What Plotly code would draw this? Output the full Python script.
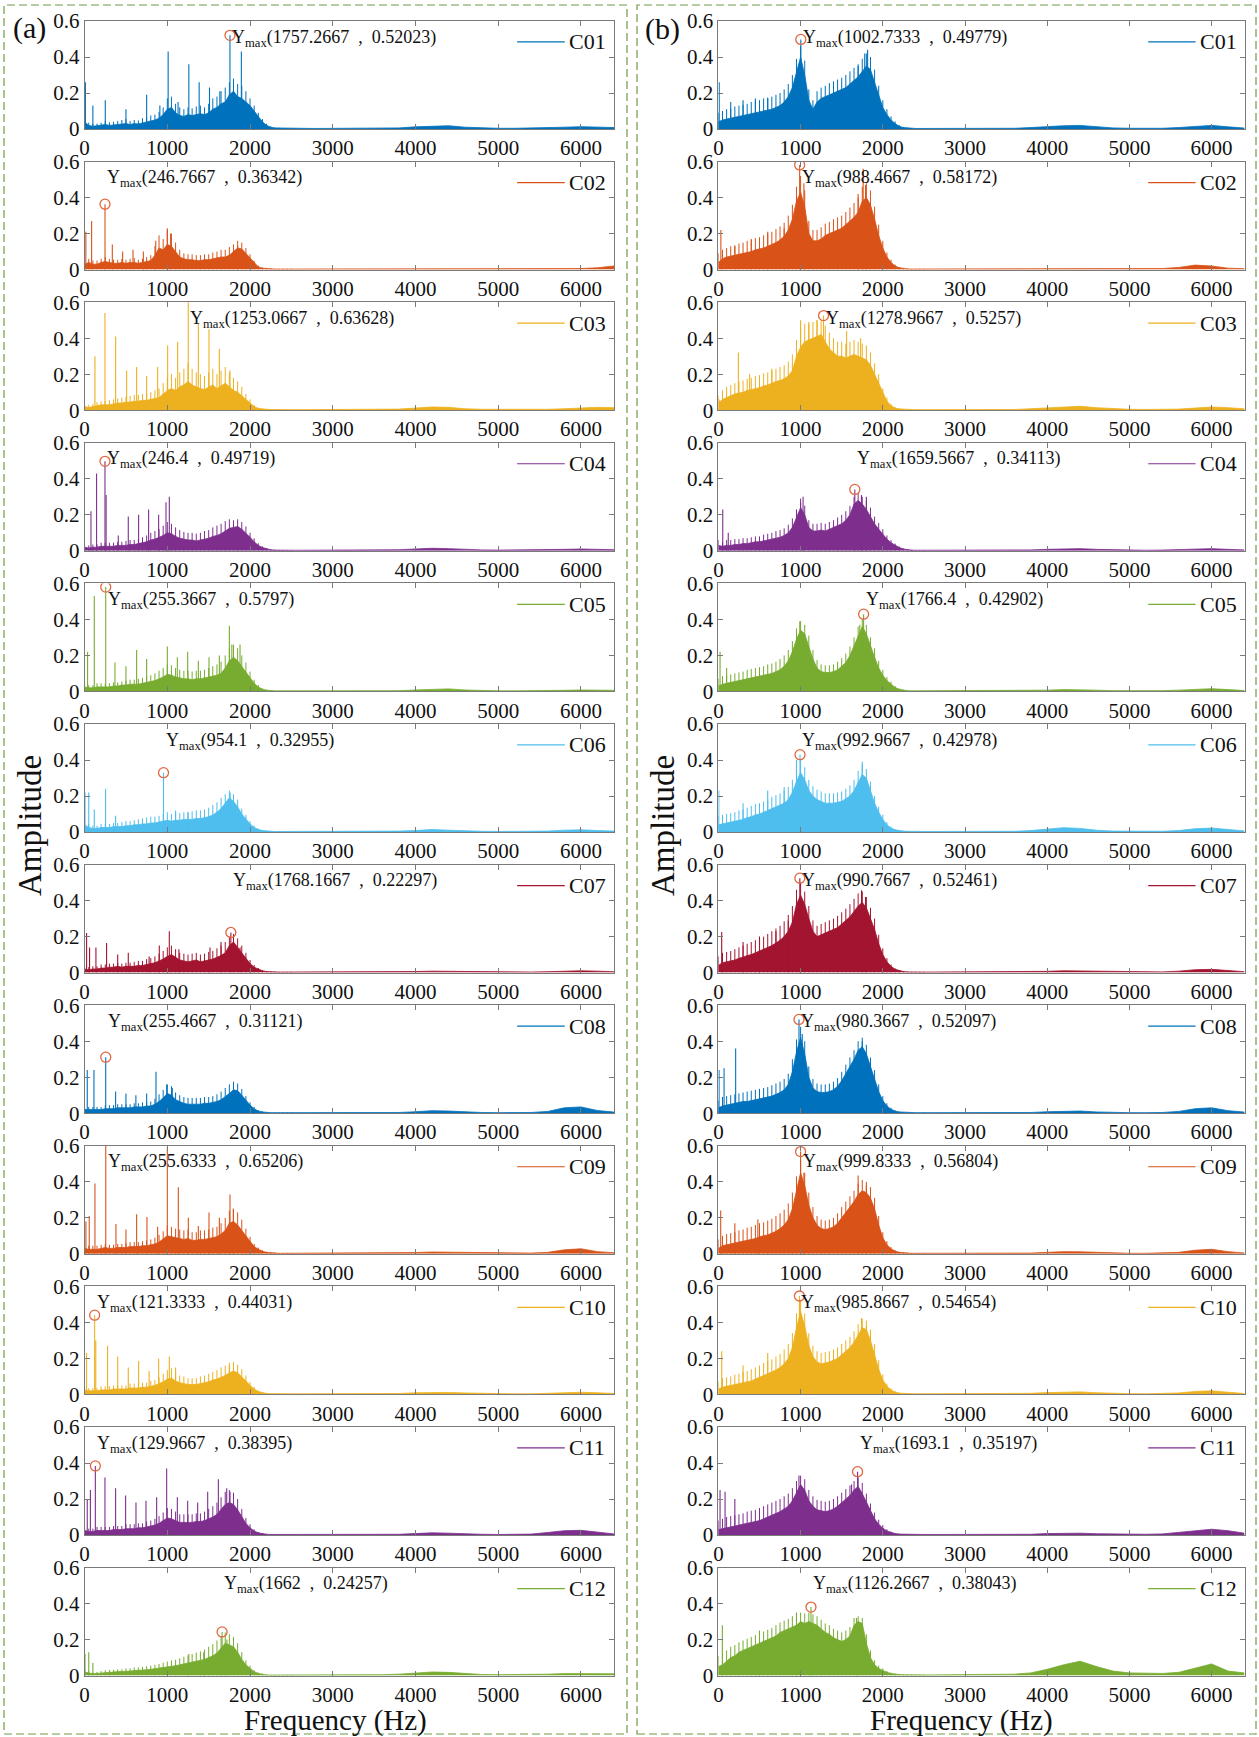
import plotly.graph_objects as go

# ---------------------------------------------------------------------------
# Frequency grid (Hz): 50 Hz bins up to 2500 Hz, 200 Hz bins for the tail
# ---------------------------------------------------------------------------
FREQ_LOW = list(range(0, 2501, 50))
FREQ_TAIL = list(range(2600, 6401, 200))
FREQ_HZ = FREQ_LOW + FREQ_TAIL

LABELS = ["C01", "C02", "C03", "C04", "C05", "C06",
          "C07", "C08", "C09", "C10", "C11", "C12"]
COLORS = ["#0072BD", "#D95319", "#EDB120", "#7E2F8E", "#77AC30", "#4DBEEE",
          "#A2142F", "#0072BD", "#D95319", "#EDB120", "#7E2F8E", "#77AC30"]

# Peak (Ymax) of each spectrum, panel (a)
PEAK_F_A = [1757.2667, 246.7667, 1253.0667, 246.4, 255.3667, 954.1,
            1768.1667, 255.4667, 255.6333, 121.3333, 129.9667, 1662]
PEAK_A_A = [0.52023, 0.36342, 0.63628, 0.49719, 0.5797, 0.32955,
            0.22297, 0.31121, 0.65206, 0.44031, 0.38395, 0.24257]
# Peak (Ymax) of each spectrum, panel (b)
PEAK_F_B = [1002.7333, 988.4667, 1278.9667, 1659.5667, 1766.4, 992.9667,
            990.7667, 980.3667, 999.8333, 985.8667, 1693.1, 1126.2667]
PEAK_A_B = [0.49779, 0.58172, 0.5257, 0.34113, 0.42902, 0.42978,
            0.52461, 0.52097, 0.56804, 0.54654, 0.35197, 0.38043]

# Spectrum body level in milli-units, one value per FREQ_HZ bin.
# Rows: 0-450 | 500-950 | 1000-1450 | 1500-1950 | 2000-2500 | 2600-4400 | 4600-6400
A01_BODY = [40, 20, 15, 18, 20, 25, 20, 22, 25, 28,
            30, 25, 30, 28, 35, 40, 45, 50, 60, 80,
            110, 120, 90, 75, 70, 80, 75, 80, 85, 80,
            90, 110, 120, 140, 150, 190, 210, 180, 170, 150,
            130, 100, 70, 40, 20, 10, 6, 5, 4, 4, 4,
            4, 3, 3, 3, 3, 4, 6, 12, 16, 18,
            10, 6, 4, 4, 5, 6, 10, 13, 12, 8]
A02_BODY = [30, 40, 30, 30, 40, 45, 40, 35, 35, 40,
            35, 40, 40, 35, 40, 45, 50, 80, 120, 110,
            140, 130, 100, 70, 60, 55, 55, 50, 50, 55,
            55, 60, 65, 70, 70, 80, 100, 120, 115, 90,
            60, 35, 15, 8, 5, 4, 3, 3, 3, 3, 3,
            3, 3, 3, 3, 3, 3, 3, 4, 5, 6,
            4, 3, 3, 3, 3, 3, 4, 6, 10, 20]
A03_BODY = [20, 15, 20, 25, 30, 30, 30, 35, 40, 40,
            45, 45, 50, 50, 55, 55, 60, 65, 70, 90,
            110, 120, 110, 130, 140, 160, 140, 130, 120, 115,
            130, 140, 120, 135, 150, 130, 110, 100, 80, 60,
            40, 20, 10, 6, 5, 4, 3, 3, 3, 3, 3,
            3, 3, 3, 3, 3, 4, 6, 12, 18, 16,
            8, 5, 4, 4, 4, 5, 8, 12, 16, 14]
A04_BODY = [20, 15, 20, 20, 25, 25, 25, 25, 30, 30,
            30, 35, 35, 40, 45, 50, 60, 65, 75, 85,
            100, 95, 80, 70, 65, 60, 60, 55, 60, 65,
            70, 80, 85, 95, 110, 125, 130, 135, 120, 100,
            75, 50, 30, 18, 10, 6, 4, 3, 3, 3, 3,
            3, 3, 3, 3, 3, 4, 6, 10, 14, 12,
            7, 5, 4, 4, 4, 5, 8, 10, 8, 6]
A05_BODY = [25, 20, 20, 25, 25, 25, 25, 30, 30, 35,
            35, 40, 40, 40, 45, 50, 55, 60, 70, 80,
            95, 90, 80, 75, 70, 70, 65, 70, 70, 75,
            80, 85, 90, 100, 130, 170, 190, 170, 140, 110,
            75, 45, 25, 12, 7, 4, 3, 3, 3, 3, 3,
            3, 3, 3, 3, 3, 3, 4, 8, 12, 14,
            8, 4, 3, 3, 3, 4, 6, 8, 8, 6]
A06_BODY = [40, 25, 20, 20, 25, 25, 25, 30, 30, 30,
            35, 35, 40, 40, 45, 45, 50, 50, 55, 60,
            65, 60, 65, 65, 70, 70, 70, 75, 75, 80,
            85, 95, 110, 130, 160, 190, 170, 140, 100, 70,
            45, 25, 14, 8, 5, 4, 3, 3, 3, 3, 3,
            3, 3, 3, 3, 3, 4, 5, 8, 14, 10,
            6, 4, 3, 3, 3, 5, 10, 12, 8, 5]
A07_BODY = [20, 15, 20, 20, 25, 25, 30, 30, 35, 30,
            35, 35, 35, 40, 40, 45, 50, 55, 65, 75,
            90, 100, 85, 70, 65, 60, 65, 70, 60, 65,
            70, 75, 85, 95, 110, 150, 170, 140, 110, 80,
            50, 30, 18, 10, 6, 4, 3, 3, 3, 3, 3,
            3, 3, 3, 3, 3, 3, 4, 6, 8, 7,
            5, 4, 3, 3, 3, 5, 8, 10, 8, 5]
A08_BODY = [20, 20, 20, 20, 20, 25, 25, 25, 30, 30,
            30, 30, 35, 35, 35, 40, 40, 50, 65, 85,
            110, 100, 75, 65, 55, 50, 50, 50, 50, 55,
            55, 60, 65, 75, 90, 110, 130, 125, 100, 70,
            45, 25, 12, 7, 4, 3, 3, 3, 3, 3, 3,
            3, 3, 3, 3, 3, 3, 4, 8, 14, 12,
            6, 4, 3, 3, 4, 10, 30, 35, 15, 6]
A09_BODY = [30, 25, 25, 25, 30, 35, 30, 30, 35, 35,
            35, 40, 40, 40, 45, 45, 50, 55, 65, 80,
            100, 95, 90, 85, 80, 85, 75, 75, 80, 80,
            85, 90, 95, 110, 130, 170, 180, 160, 130, 100,
            65, 40, 25, 14, 8, 5, 4, 3, 3, 3, 3,
            3, 3, 3, 3, 3, 3, 4, 7, 10, 9,
            6, 4, 3, 3, 4, 8, 22, 28, 12, 6]
A10_BODY = [25, 20, 20, 20, 25, 25, 25, 30, 30, 30,
            30, 35, 35, 35, 40, 40, 45, 50, 60, 70,
            85, 90, 75, 65, 60, 55, 55, 55, 60, 65,
            70, 80, 85, 95, 105, 120, 130, 120, 100, 75,
            50, 30, 16, 9, 5, 4, 3, 3, 3, 3, 3,
            3, 3, 3, 3, 3, 3, 5, 9, 12, 11,
            8, 5, 4, 3, 3, 5, 9, 12, 9, 5]
A11_BODY = [25, 20, 20, 25, 25, 25, 25, 30, 30, 30,
            35, 35, 35, 40, 40, 45, 50, 55, 65, 80,
            95, 90, 80, 70, 70, 70, 70, 75, 75, 80,
            90, 100, 115, 140, 170, 180, 170, 140, 100, 65,
            40, 22, 12, 7, 4, 3, 3, 3, 3, 3, 3,
            3, 3, 3, 3, 3, 3, 4, 8, 12, 10,
            6, 4, 3, 3, 5, 14, 24, 26, 16, 6]
A12_BODY = [20, 15, 10, 12, 15, 18, 20, 20, 22, 22,
            25, 25, 28, 28, 30, 32, 35, 38, 40, 45,
            48, 52, 55, 60, 65, 70, 75, 80, 85, 90,
            100, 110, 125, 150, 180, 170, 160, 130, 90, 60,
            40, 22, 12, 7, 4, 3, 3, 3, 3, 3, 3,
            3, 3, 3, 3, 4, 5, 8, 16, 20, 18,
            10, 6, 5, 5, 6, 8, 11, 12, 12, 10]

B01_BODY = [40, 50, 55, 60, 65, 70, 75, 80, 85, 90,
            95, 100, 105, 110, 120, 130, 150, 180, 230, 320,
            400, 300, 160, 110, 150, 170, 180, 190, 200, 210,
            220, 230, 250, 270, 290, 320, 350, 330, 260, 180,
            120, 80, 50, 30, 15, 8, 5, 4, 3, 3, 3,
            3, 3, 3, 3, 3, 4, 8, 14, 18, 20,
            12, 6, 4, 3, 4, 8, 15, 20, 12, 5]
B02_BODY = [40, 60, 70, 75, 80, 85, 90, 95, 100, 110,
            115, 120, 130, 140, 150, 165, 185, 220, 280, 380,
            430, 350, 200, 160, 160, 170, 190, 200, 210, 220,
            230, 250, 270, 290, 320, 380, 400, 360, 280, 190,
            120, 70, 40, 20, 10, 6, 4, 3, 3, 3, 3,
            4, 4, 4, 4, 4, 4, 5, 6, 6, 6,
            5, 5, 5, 6, 6, 12, 25, 20, 8, 5]
B03_BODY = [40, 60, 70, 80, 90, 95, 100, 110, 115, 120,
            125, 135, 140, 150, 160, 165, 175, 190, 220, 300,
            350, 380, 390, 400, 410, 420, 380, 340, 320, 300,
            300, 290, 300, 310, 300, 290, 280, 250, 200, 150,
            90, 50, 25, 12, 7, 5, 4, 3, 3, 3, 3,
            3, 3, 3, 3, 3, 4, 8, 14, 20, 22,
            14, 8, 5, 4, 4, 6, 12, 18, 14, 8]
B04_BODY = [30, 25, 30, 30, 35, 35, 40, 40, 45, 50,
            50, 55, 60, 65, 70, 75, 85, 100, 130, 180,
            240, 200, 130, 110, 110, 115, 110, 120, 130, 140,
            150, 170, 200, 260, 280, 260, 230, 190, 150, 120,
            90, 65, 45, 30, 18, 10, 6, 4, 3, 3, 3,
            3, 3, 3, 3, 3, 3, 5, 8, 12, 12,
            8, 5, 4, 3, 4, 6, 10, 12, 8, 5]
B05_BODY = [30, 40, 45, 50, 55, 60, 65, 70, 75, 80,
            85, 90, 95, 100, 110, 120, 140, 170, 220, 290,
            340, 320, 250, 180, 130, 110, 105, 105, 110, 120,
            140, 160, 200, 250, 310, 360, 320, 250, 190, 130,
            90, 60, 40, 22, 12, 7, 4, 3, 3, 3, 3,
            3, 3, 3, 3, 3, 3, 4, 7, 10, 10,
            7, 4, 3, 3, 4, 7, 12, 15, 10, 5]
B06_BODY = [40, 45, 50, 55, 60, 65, 70, 80, 85, 95,
            100, 110, 120, 130, 140, 150, 160, 180, 220, 280,
            330, 290, 230, 200, 180, 170, 160, 160, 160, 165,
            170, 185, 200, 230, 280, 320, 300, 230, 160, 110,
            70, 40, 22, 12, 7, 5, 4, 3, 3, 3, 3,
            3, 3, 3, 3, 3, 4, 8, 16, 24, 20,
            10, 5, 4, 3, 4, 8, 18, 22, 12, 6]
B07_BODY = [40, 55, 60, 65, 70, 80, 85, 95, 100, 110,
            120, 130, 140, 150, 165, 180, 200, 230, 280, 380,
            430, 380, 300, 230, 200, 210, 220, 230, 240, 250,
            270, 290, 310, 340, 370, 390, 360, 300, 240, 160,
            100, 60, 35, 18, 10, 6, 4, 3, 3, 3, 3,
            3, 3, 3, 3, 3, 3, 4, 7, 10, 9,
            6, 4, 3, 3, 4, 8, 16, 18, 10, 5]
B08_BODY = [30, 40, 45, 50, 55, 60, 65, 65, 70, 75,
            80, 85, 90, 95, 105, 115, 130, 160, 230, 340,
            420, 330, 200, 140, 120, 115, 115, 120, 130, 150,
            180, 220, 260, 300, 350, 370, 330, 260, 190, 120,
            70, 40, 22, 12, 7, 5, 4, 3, 3, 3, 3,
            3, 3, 3, 3, 3, 3, 4, 8, 12, 12,
            7, 4, 3, 3, 4, 10, 25, 30, 14, 6]
B09_BODY = [30, 45, 50, 55, 60, 65, 70, 75, 80, 85,
            95, 100, 105, 115, 125, 140, 160, 190, 250, 350,
            450, 380, 270, 200, 160, 140, 135, 140, 150, 170,
            200, 230, 260, 290, 330, 350, 340, 310, 250, 160,
            90, 50, 28, 15, 8, 5, 4, 3, 3, 3, 3,
            3, 3, 3, 3, 3, 3, 4, 8, 12, 11,
            7, 4, 3, 3, 4, 8, 20, 25, 12, 5]
B10_BODY = [30, 40, 45, 50, 55, 60, 65, 70, 75, 85,
            95, 105, 115, 125, 135, 150, 170, 200, 260, 370,
            460, 380, 270, 210, 180, 170, 175, 180, 190, 200,
            220, 240, 260, 290, 330, 370, 360, 300, 220, 140,
            80, 45, 25, 13, 7, 5, 4, 3, 3, 3, 3,
            3, 3, 3, 3, 3, 4, 6, 10, 14, 14,
            9, 5, 4, 3, 4, 8, 16, 20, 12, 5]
B11_BODY = [30, 35, 40, 45, 50, 55, 60, 65, 70, 75,
            80, 90, 100, 110, 120, 130, 145, 160, 190, 240,
            280, 250, 190, 160, 140, 135, 130, 135, 145, 160,
            180, 200, 220, 250, 270, 230, 180, 130, 90, 60,
            38, 22, 13, 8, 5, 4, 3, 3, 3, 3, 3,
            3, 3, 3, 3, 3, 3, 4, 8, 11, 10,
            7, 5, 4, 4, 6, 14, 26, 32, 24, 10]
B12_BODY = [50, 60, 80, 100, 110, 130, 140, 150, 160, 170,
            180, 190, 200, 210, 220, 240, 250, 260, 270, 280,
            300, 290, 300, 290, 280, 260, 240, 230, 210, 200,
            190, 200, 220, 280, 300, 290, 180, 100, 60, 40,
            28, 18, 12, 8, 6, 5, 4, 4, 4, 4, 4,
            4, 4, 5, 5, 6, 8, 15, 35, 60, 80,
            50, 25, 15, 12, 12, 18, 40, 65, 25, 15]

# Hair-tip heights above the body, one per FREQ_LOW bin (milli-units).
# Rows: 0-450 | 500-950 | 1000-1450 | 1500-1950 | 2000-2500
A01_TIPS = [60, 35, 28, 30, 35, 45, 38, 40, 45, 50,
            55, 45, 50, 48, 60, 65, 75, 80, 95, 120,
            170, 180, 140, 120, 110, 120, 115, 125, 130, 120,
            140, 170, 180, 210, 230, 260, 280, 250, 240, 210,
            170, 130, 90, 55, 30, 15, 9, 7, 6, 5, 5]
A02_TIPS = [55, 60, 50, 50, 60, 70, 60, 55, 55, 60,
            55, 60, 65, 55, 60, 70, 80, 130, 190, 170,
            220, 200, 150, 110, 90, 85, 85, 80, 80, 85,
            85, 95, 100, 110, 110, 125, 140, 160, 150, 120,
            85, 50, 22, 12, 7, 5, 4, 4, 4, 4, 4]
A03_TIPS = [35, 30, 35, 45, 50, 50, 55, 60, 65, 70,
            75, 80, 85, 85, 90, 95, 100, 110, 120, 150,
            180, 200, 180, 210, 230, 260, 230, 210, 200, 190,
            210, 230, 200, 220, 240, 210, 180, 160, 130, 90,
            60, 30, 14, 9, 7, 5, 4, 4, 4, 4, 4]
A04_TIPS = [35, 30, 35, 35, 45, 45, 45, 45, 50, 50,
            55, 60, 60, 65, 75, 85, 100, 110, 120, 140,
            160, 150, 130, 115, 105, 100, 100, 95, 100, 110,
            115, 130, 140, 150, 165, 175, 170, 175, 160, 135,
            100, 70, 42, 25, 14, 8, 6, 4, 4, 4, 4]
A05_TIPS = [45, 35, 35, 45, 45, 45, 45, 50, 50, 55,
            60, 65, 65, 70, 75, 85, 90, 100, 115, 130,
            150, 145, 130, 120, 115, 115, 110, 115, 115, 120,
            130, 140, 150, 165, 200, 240, 260, 240, 200, 160,
            110, 65, 35, 17, 10, 6, 4, 4, 4, 4, 4]
A06_TIPS = [65, 45, 35, 35, 45, 45, 45, 50, 50, 55,
            60, 60, 65, 70, 75, 80, 85, 85, 90, 100,
            110, 100, 105, 105, 110, 110, 115, 120, 120, 125,
            135, 150, 165, 190, 210, 230, 210, 180, 130, 95,
            60, 35, 20, 11, 7, 5, 4, 4, 4, 4, 4]
A07_TIPS = [35, 30, 35, 35, 45, 45, 50, 50, 55, 50,
            55, 55, 60, 65, 65, 75, 80, 90, 105, 120,
            140, 150, 130, 110, 105, 100, 105, 110, 100, 105,
            115, 120, 135, 150, 170, 200, 215, 190, 150, 110,
            70, 42, 25, 14, 8, 5, 4, 4, 4, 4, 4]
A08_TIPS = [35, 35, 35, 35, 35, 45, 45, 45, 50, 50,
            50, 50, 55, 55, 60, 65, 65, 80, 105, 130,
            160, 150, 115, 100, 90, 85, 85, 85, 85, 90,
            90, 95, 105, 120, 140, 160, 175, 165, 135, 95,
            60, 35, 17, 10, 6, 4, 4, 4, 4, 4, 4]
A09_TIPS = [50, 45, 45, 45, 50, 55, 50, 50, 55, 55,
            60, 65, 65, 65, 70, 75, 80, 90, 105, 125,
            155, 150, 140, 135, 130, 135, 120, 120, 130, 130,
            135, 145, 150, 170, 200, 240, 250, 230, 190, 140,
            95, 55, 35, 20, 11, 7, 5, 4, 4, 4, 4]
A10_TIPS = [45, 35, 35, 35, 45, 45, 45, 50, 50, 50,
            50, 60, 60, 60, 65, 65, 75, 80, 95, 115,
            135, 145, 120, 105, 100, 90, 90, 90, 100, 105,
            115, 125, 135, 150, 160, 175, 180, 165, 140, 105,
            70, 42, 22, 12, 7, 5, 4, 4, 4, 4, 4]
A11_TIPS = [45, 35, 35, 45, 45, 45, 45, 50, 50, 50,
            60, 60, 60, 65, 65, 75, 80, 90, 105, 125,
            150, 145, 130, 115, 115, 115, 115, 120, 120, 130,
            145, 160, 180, 210, 240, 250, 235, 200, 145, 95,
            60, 32, 17, 10, 6, 4, 4, 4, 4, 4, 4]
A12_TIPS = [35, 25, 18, 20, 25, 30, 32, 32, 35, 35,
            40, 40, 45, 45, 48, 52, 55, 60, 65, 72,
            78, 84, 88, 96, 105, 112, 120, 128, 135, 145,
            160, 175, 195, 220, 240, 230, 215, 180, 130, 85,
            55, 30, 17, 10, 6, 4, 4, 4, 4, 4, 4]

B01_TIPS = [90, 100, 110, 115, 125, 130, 135, 140, 150, 155,
            160, 170, 175, 180, 190, 200, 220, 250, 300, 390,
            460, 380, 220, 160, 210, 230, 240, 255, 265, 275,
            285, 300, 320, 340, 360, 390, 420, 400, 330, 240,
            160, 110, 70, 42, 22, 12, 7, 5, 4, 4, 4]
B02_TIPS = [90, 110, 120, 130, 135, 145, 150, 160, 165, 175,
            180, 190, 200, 210, 225, 240, 260, 300, 360, 460,
            520, 440, 270, 220, 220, 235, 255, 265, 280, 290,
            300, 320, 345, 370, 400, 460, 480, 440, 350, 250,
            160, 95, 55, 28, 14, 8, 6, 4, 4, 4, 4]
B03_TIPS = [80, 110, 130, 140, 150, 160, 165, 175, 180, 190,
            195, 205, 210, 220, 230, 240, 250, 270, 310, 390,
            450, 480, 490, 490, 500, 500, 470, 430, 400, 380,
            380, 370, 380, 390, 380, 370, 360, 320, 260, 200,
            120, 70, 35, 17, 10, 7, 5, 4, 4, 4, 4]
B04_TIPS = [60, 50, 60, 60, 65, 65, 70, 70, 75, 80,
            80, 90, 95, 100, 110, 115, 125, 145, 180, 230,
            290, 250, 170, 150, 150, 155, 150, 160, 170, 185,
            200, 220, 250, 300, 320, 300, 280, 240, 190, 155,
            120, 85, 60, 40, 24, 14, 8, 5, 4, 4, 4]
B05_TIPS = [70, 85, 90, 95, 100, 105, 110, 120, 125, 130,
            135, 140, 150, 155, 165, 180, 200, 230, 280, 350,
            390, 370, 310, 230, 175, 150, 145, 145, 150, 165,
            185, 210, 250, 300, 360, 400, 370, 300, 240, 170,
            120, 80, 55, 30, 16, 9, 5, 4, 4, 4, 4]
B06_TIPS = [90, 95, 100, 105, 110, 120, 125, 135, 145, 155,
            160, 170, 180, 195, 205, 215, 230, 250, 290, 350,
            400, 360, 290, 255, 235, 225, 215, 215, 215, 220,
            225, 240, 260, 290, 340, 370, 350, 280, 200, 140,
            95, 55, 30, 16, 9, 6, 5, 4, 4, 4, 4]
B07_TIPS = [90, 110, 115, 120, 130, 140, 150, 160, 170, 180,
            190, 200, 215, 230, 245, 260, 285, 320, 370, 460,
            500, 450, 370, 290, 260, 270, 280, 290, 300, 315,
            335, 355, 380, 410, 440, 450, 420, 360, 300, 210,
            135, 80, 45, 24, 13, 8, 5, 4, 4, 4, 4]
B08_TIPS = [70, 90, 95, 100, 105, 110, 115, 120, 125, 130,
            135, 140, 145, 155, 165, 175, 190, 220, 300, 410,
            480, 400, 260, 190, 165, 160, 160, 165, 175, 195,
            230, 270, 310, 350, 400, 420, 380, 310, 240, 160,
            95, 55, 30, 16, 9, 6, 5, 4, 4, 4, 4]
B09_TIPS = [80, 100, 110, 115, 120, 130, 135, 145, 150, 160,
            170, 175, 185, 195, 210, 225, 245, 280, 340, 430,
            520, 450, 340, 260, 210, 190, 185, 190, 200, 225,
            260, 290, 320, 350, 390, 410, 400, 370, 310, 210,
            120, 70, 38, 20, 11, 7, 5, 4, 4, 4, 4]
B10_TIPS = [70, 90, 95, 100, 110, 115, 125, 130, 140, 150,
            160, 175, 185, 195, 210, 225, 250, 280, 340, 450,
            520, 450, 340, 270, 240, 230, 235, 240, 250, 260,
            280, 300, 320, 350, 390, 420, 410, 360, 280, 190,
            110, 60, 33, 17, 9, 6, 5, 4, 4, 4, 4]
B11_TIPS = [80, 90, 100, 105, 110, 115, 120, 130, 135, 140,
            150, 160, 170, 180, 190, 200, 215, 230, 260, 300,
            330, 310, 250, 215, 195, 190, 185, 190, 200, 215,
            235, 255, 275, 300, 320, 290, 230, 175, 125, 85,
            55, 32, 18, 11, 7, 5, 4, 4, 4, 4, 4]
B12_TIPS = [110, 120, 140, 160, 170, 185, 195, 205, 215, 225,
            235, 245, 255, 265, 280, 295, 305, 315, 330, 340,
            350, 345, 350, 340, 330, 310, 290, 280, 260, 250,
            240, 250, 270, 320, 330, 320, 230, 140, 85, 55,
            40, 25, 17, 11, 8, 6, 5, 5, 5, 5, 5]

# Narrow harmonic lines (frequency Hz, amplitude in milli-units)
A01_SPIKES = [(10, 260), (100, 130), (250, 160), (500, 110), (750, 190), (910, 130),
              (1010, 430), (1130, 150), (1260, 360), (1385, 260), (1510, 230),
              (1635, 210), (1895, 430)]
A02_SPIKES = [(15, 210), (85, 270), (335, 140), (460, 100), (585, 110), (710, 100),
              (860, 160), (1000, 230), (1040, 200), (1850, 130)]
A03_SPIKES = [(125, 300), (246, 540), (375, 410), (508, 220), (629, 240), (750, 190),
              (883, 240), (1004, 360), (1125, 380), (1375, 480), (1504, 450),
              (1629, 340), (1758, 220)]
A04_SPIKES = [(77, 220), (145, 430), (260, 310), (407, 85), (528, 190), (653, 200),
              (774, 230), (895, 200), (984, 270), (1024, 300)]
A05_SPIKES = [(36, 220), (117, 530), (367, 160), (500, 140), (629, 230), (750, 180),
              (1000, 250), (1121, 190), (1246, 220), (1375, 170), (1504, 190),
              (1629, 200), (1750, 365), (1780, 260), (1879, 260)]
A06_SPIKES = [(5, 220), (50, 220), (117, 125), (254, 240), (375, 90), (1100, 120),
              (1250, 110), (1760, 220)]
A07_SPIKES = [(24, 220), (60, 140), (137, 140), (266, 165), (400, 100), (528, 110),
              (780, 90), (903, 150), (1024, 230), (1140, 130), (1516, 140),
              (1649, 170), (1879, 140)]
A08_SPIKES = [(32, 240), (113, 240), (375, 120), (500, 110), (620, 100), (750, 110),
              (863, 230), (992, 160), (1060, 140)]
A09_SPIKES = [(16, 180), (56, 210), (125, 390), (379, 165), (500, 135), (629, 220),
              (754, 205), (883, 150), (1000, 590), (1133, 370), (1254, 200),
              (1375, 155), (1504, 230), (1629, 200), (1758, 330), (1798, 250)]
A10_SPIKES = [(24, 230), (135, 300), (278, 270), (400, 210), (528, 150), (653, 185),
              (780, 130), (895, 200), (1024, 210), (1100, 150), (1750, 160)]
A11_SPIKES = [(32, 200), (70, 250), (246, 320), (375, 260), (496, 220), (621, 180),
              (742, 190), (871, 210), (992, 370), (1121, 210), (1246, 190),
              (1367, 180), (1488, 240), (1617, 310), (1718, 260), (1758, 240)]
A12_SPIKES = [(5, 120), (50, 130), (100, 70), (1260, 120), (1440, 130), (1720, 200)]

B01_SPIKES = [(10, 260), (150, 150), (300, 160), (450, 170), (600, 170), (1700, 350),
              (1780, 420), (1815, 440)]
B02_SPIKES = [(30, 220), (200, 130), (400, 170), (600, 210), (800, 230), (1040, 480),
              (1700, 420), (1761, 560), (1790, 470)]
B03_SPIKES = [(10, 60), (243, 320), (380, 200), (650, 230), (1000, 500), (1100, 480),
              (1200, 500), (1560, 440), (1730, 400)]
B04_SPIKES = [(53, 230), (120, 100), (1000, 270), (1030, 300), (1740, 310), (1800, 300)]
B05_SPIKES = [(20, 220), (100, 130), (990, 390), (1720, 370)]
B06_SPIKES = [(5, 230), (300, 160), (600, 230), (800, 250), (950, 400), (1750, 390)]
B07_SPIKES = [(40, 225), (300, 170), (500, 200), (700, 230), (850, 290), (1741, 457),
              (1790, 420)]
B08_SPIKES = [(8, 240), (69, 250), (210, 360), (1020, 440), (1750, 400)]
B09_SPIKES = [(28, 240), (200, 170), (480, 190), (1040, 450), (1700, 435), (1800, 380)]
B10_SPIKES = [(40, 240), (300, 160), (600, 230), (1741, 425), (1800, 380)]
B11_SPIKES = [(20, 250), (81, 240), (200, 200), (980, 330), (1620, 280)]
B12_SPIKES = [(48, 280), (500, 250), (950, 350), (1680, 320)]

BODIES_A = [A01_BODY, A02_BODY, A03_BODY, A04_BODY, A05_BODY, A06_BODY,
            A07_BODY, A08_BODY, A09_BODY, A10_BODY, A11_BODY, A12_BODY]
BODIES_B = [B01_BODY, B02_BODY, B03_BODY, B04_BODY, B05_BODY, B06_BODY,
            B07_BODY, B08_BODY, B09_BODY, B10_BODY, B11_BODY, B12_BODY]
TIPS_A = [A01_TIPS, A02_TIPS, A03_TIPS, A04_TIPS, A05_TIPS, A06_TIPS,
          A07_TIPS, A08_TIPS, A09_TIPS, A10_TIPS, A11_TIPS, A12_TIPS]
TIPS_B = [B01_TIPS, B02_TIPS, B03_TIPS, B04_TIPS, B05_TIPS, B06_TIPS,
          B07_TIPS, B08_TIPS, B09_TIPS, B10_TIPS, B11_TIPS, B12_TIPS]
SPIKES_A = [A01_SPIKES, A02_SPIKES, A03_SPIKES, A04_SPIKES, A05_SPIKES, A06_SPIKES,
            A07_SPIKES, A08_SPIKES, A09_SPIKES, A10_SPIKES, A11_SPIKES, A12_SPIKES]
SPIKES_B = [B01_SPIKES, B02_SPIKES, B03_SPIKES, B04_SPIKES, B05_SPIKES, B06_SPIKES,
            B07_SPIKES, B08_SPIKES, B09_SPIKES, B10_SPIKES, B11_SPIKES, B12_SPIKES]

X_TICKS = [0, 1000, 2000, 3000, 4000, 5000, 6000]
Y_TICKS = [0, 0.2, 0.4, 0.6]
Y_TICK_TEXT = ["0", "0.2", "0.4", "0.6"]

# ---------------------------------------------------------------------------
# Page geometry (pixels)
# ---------------------------------------------------------------------------
W, H = 1259, 1737
FONT = "Liberation Serif, Times New Roman, serif"
FRAME = "#7a7a7a"
MARK = "#E2663F"
BORDER = "#6E9A48"

COL_X = [(84.6, 614.0), (718.4, 1244.5)]
ROW_TOP0, ROW_PITCH, ROW_H = 21.0, 140.6, 108.0


def px_x(p):
    return p / W


def px_y(p):
    return 1 - p / H


def fmt(v):
    return f"{v:.8g}"


def segments(pairs):
    """Vertical lines from the baseline, separated by gaps."""
    xs, ys = [], []
    for f, a in pairs:
        xs += [f, f, None]
        ys += [0, a / 1000, None]
    return xs, ys


fig = go.Figure()
layout = dict(
    width=W, height=H,
    margin=dict(l=0, r=0, t=0, b=0, pad=0, autoexpand=False),
    paper_bgcolor="white", plot_bgcolor="white", showlegend=False,
    font=dict(family=FONT, color="#111"),
)
shapes, annotations = [], []

panels = [(BODIES_A, TIPS_A, SPIKES_A, PEAK_F_A, PEAK_A_A),
          (BODIES_B, TIPS_B, SPIKES_B, PEAK_F_B, PEAK_A_B)]

for col, (bodies, tips, spikes, pk_f, pk_a) in enumerate(panels):
    for i in range(12):
        n = col * 12 + i + 1
        xs = "" if n == 1 else str(n)
        xref, yref = "x" + xs, "y" + xs
        color = COLORS[i]
        body, tip = bodies[i], tips[i]
        if len(body) != len(FREQ_HZ) or len(tip) != len(FREQ_LOW):
            raise ValueError(f"spectrum {col}-{i}: {len(body)} / {len(tip)} bins")

        top = ROW_TOP0 + ROW_PITCH * i
        bottom = top + ROW_H
        axis_common = dict(
            ticks="inside", ticklen=5, tickcolor=FRAME, showline=True,
            linecolor=FRAME, linewidth=1, mirror="ticks", showgrid=False,
            zeroline=False, automargin=False,
            tickfont=dict(family=FONT, size=21, color="#111"),
        )
        layout["xaxis" + xs] = dict(
            domain=[px_x(COL_X[col][0]), px_x(COL_X[col][1])], anchor=yref,
            range=[0, 6400], tickvals=X_TICKS, **axis_common,
        )
        layout["yaxis" + xs] = dict(
            domain=[px_y(bottom), px_y(top)], anchor=xref,
            range=[0, 0.6], tickvals=Y_TICKS, ticktext=Y_TICK_TEXT, **axis_common,
        )

        # hair tips of the dense spectrum
        tx, ty = segments(list(zip(FREQ_LOW, tip)))
        fig.add_trace(go.Scatter(
            x=tx, y=ty, mode="lines", line=dict(color=color, width=1.0),
            xaxis=xref, yaxis=yref, hoverinfo="skip",
        ))
        # dense spectrum body
        fig.add_trace(go.Scatter(
            x=FREQ_HZ, y=[v / 1000 for v in body], mode="lines",
            fill="tozeroy", fillcolor=color, line=dict(color=color, width=0.8),
            xaxis=xref, yaxis=yref, hoverinfo="skip",
        ))
        # narrow spectral lines, including the Ymax line
        sx, sy = segments(spikes[i] + [(pk_f[i], pk_a[i] * 1000)])
        fig.add_trace(go.Scatter(
            x=sx, y=sy, mode="lines", line=dict(color=color, width=1.1),
            xaxis=xref, yaxis=yref, hoverinfo="skip",
        ))
        # Ymax marker
        fig.add_trace(go.Scatter(
            x=[pk_f[i]], y=[pk_a[i]], mode="markers",
            marker=dict(symbol="circle-open", size=10,
                        color=MARK, line=dict(color=MARK, width=1.3)),
            xaxis=xref, yaxis=yref, hoverinfo="skip",
        ))
        annotations.append(dict(
            x=pk_f[i], y=0.505, xref=xref, yref=yref, xanchor="left",
            yanchor="middle", showarrow=False,
            text=f"Y<sub>max</sub>({fmt(pk_f[i])}\u00a0\u00a0,\u00a0\u00a0{fmt(pk_a[i])})",
            font=dict(family=FONT, size=18, color="#111"),
        ))
        # legend entry drawn inside the axes
        shapes.append(dict(
            type="line", xref=xref + " domain", yref=yref + " domain",
            x0=0.817, x1=0.907, y0=0.806, y1=0.806,
            line=dict(color=color, width=1.2),
        ))
        annotations.append(dict(
            x=0.911, y=0.806, xref=xref + " domain", yref=yref + " domain",
            xanchor="left", yanchor="middle", showarrow=False, text=LABELS[i],
            font=dict(family=FONT, size=22, color="#111"),
        ))

# dashed frames around the two panels
for x0, x1 in [(4, 627), (637, 1256)]:
    shapes.append(dict(
        type="rect", xref="paper", yref="paper",
        x0=px_x(x0), x1=px_x(x1), y0=px_y(1734), y1=px_y(5),
        line=dict(color=BORDER, width=1.2, dash="8px,4px"),
    ))

# panel letters and axis titles
for text, xp, yp in [("(a)", 29, 28), ("(b)", 662, 29)]:
    annotations.append(dict(x=px_x(xp), y=px_y(yp), xref="paper", yref="paper",
                            xanchor="center", yanchor="middle",
                            text=text, showarrow=False,
                            font=dict(family=FONT, size=30, color="#111")))
for xp in [30, 663]:
    annotations.append(dict(x=px_x(xp), y=px_y(826), xref="paper", yref="paper",
                            xanchor="center", yanchor="middle",
                            text="Amplitude", textangle=-90, showarrow=False,
                            font=dict(family=FONT, size=33, color="#111")))
for xp in [336, 961]:
    annotations.append(dict(x=px_x(xp), y=px_y(1720), xref="paper", yref="paper",
                            xanchor="center", yanchor="middle",
                            text="Frequency (Hz)", showarrow=False,
                            font=dict(family=FONT, size=29, color="#111")))

layout["shapes"] = shapes
layout["annotations"] = annotations
fig.update_layout(**layout)
fig.write_html("out.html")
